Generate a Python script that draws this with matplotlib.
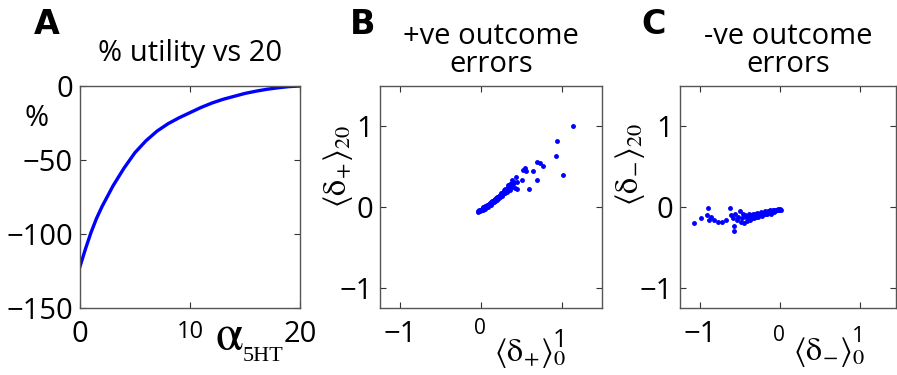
import matplotlib
matplotlib.use("Agg")
import matplotlib.pyplot as plt

plt.rcParams['font.family'] = ['Open Sans', 'DejaVu Sans']
plt.rcParams['mathtext.fontset'] = 'stix'

# panel A: % utility relative to alpha = 20
alpha = [0, 0.5, 1, 1.5, 2, 3, 4, 5, 6, 7, 8, 9, 10, 11, 12, 13, 14, 15, 16, 17, 18, 19, 20]
utility = [-122, -110, -99, -89.5, -81.5, -67.5, -55.5, -45, -37, -30.5, -25.5, -21.5,
           -18, -14.5, -11.5, -9, -7, -5, -3.5, -2.2, -1.2, -0.4, 0]

# panel B: positive outcome errors
bx = [-0.04, -0.03, -0.02, -0.01, 0.00, 0.01, 0.01, 0.02, 0.03, 0.03, 0.04, 0.05,
      0.05, 0.06, 0.07, 0.07, 0.08, 0.09, 0.09, 0.10, 0.10, 0.11, 0.12, 0.12,
      0.13, 0.14, 0.14, 0.15, 0.16, 0.16, 0.17, 0.18, 0.18, 0.19, 0.20, 0.20,
      0.21, 0.22, 0.22, 0.23, 0.24, 0.24, 0.25, 0.26, 0.26, 0.27, 0.28, 0.28,
      0.29, 0.30, 0.30, 0.31, 0.32, 0.32, 0.33, 0.34, 0.34, 0.35, 0.36, 0.36,
      0.37, 0.38, 0.39, 0.40, 0.41, 0.42, 0.43, 0.45, 0.45, 0.37, 0.39, 0.51,
      0.52, 0.54, 0.56, 0.59, 0.65, 0.70, 0.70, 0.73, 0.77, 0.93, 0.94, 1.02,
      1.14]
by = [-0.06, -0.05, -0.04, -0.05, -0.03, -0.04, -0.02, -0.02, -0.03, 0.00, -0.01, 0.01,
      -0.02, 0.00, 0.02, 0.00, 0.01, 0.03, 0.00, 0.04, 0.02, 0.05, 0.03, 0.06,
      0.04, 0.07, 0.05, 0.08, 0.06, 0.09, 0.07, 0.10, 0.08, 0.11, 0.09, 0.12,
      0.13, 0.11, 0.14, 0.12, 0.15, 0.13, 0.17, 0.14, 0.18, 0.16, 0.19, 0.17,
      0.21, 0.18, 0.22, 0.20, 0.23, 0.19, 0.25, 0.22, 0.27, 0.24, 0.29, 0.21,
      0.26, 0.29, 0.25, 0.28, 0.31, 0.24, 0.37, 0.23, 0.31, 0.29, 0.33, 0.33,
      0.46, 0.49, 0.45, 0.23, 0.45, 0.33, 0.56, 0.54, 0.51, 0.63, 0.82, 0.40,
      1.00]

# panel C: negative outcome errors
cx = [-1.07, -0.99, -0.90, -0.91, -0.89, -0.86, -0.83, -0.78, -0.73, -0.68, -0.63,
      -0.61, -0.59, -0.58, -0.58, -0.56, -0.54, -0.52, -0.50, -0.49, -0.47, -0.46,
      -0.45, -0.44, -0.42, -0.41, -0.40, -0.39, -0.38, -0.37, -0.36, -0.35, -0.34,
      -0.33, -0.32, -0.31, -0.30, -0.29, -0.28, -0.27, -0.26, -0.25, -0.24, -0.23,
      -0.22, -0.21, -0.20, -0.19, -0.18, -0.17, -0.16, -0.15, -0.14, -0.13, -0.12,
      -0.11, -0.10, -0.09, -0.08, -0.07, -0.06, -0.05, -0.04, -0.03, -0.02, -0.01,
      0.00, 0.01]
cy = [-0.20, -0.14, -0.01, -0.10, -0.16, -0.12, -0.16, -0.18, -0.19, -0.16, -0.01,
      -0.10, -0.14, -0.24, -0.30, -0.08, -0.16, -0.12, -0.05, -0.19, -0.14, -0.08,
      -0.20, -0.10, -0.12, -0.17, -0.14, -0.09, -0.12, -0.16, -0.10, -0.13, -0.08,
      -0.11, -0.14, -0.09, -0.12, -0.07, -0.10, -0.12, -0.08, -0.10, -0.06, -0.09,
      -0.11, -0.07, -0.09, -0.05, -0.08, -0.06, -0.09, -0.05, -0.07, -0.04, -0.06,
      -0.08, -0.05, -0.03, -0.06, -0.04, -0.05, -0.03, -0.04, -0.02, -0.04, -0.03,
      -0.02, -0.03]

W, H = 897, 375
FS = 21
BLUE = '#0000ff'


def box(x0, y0, w, h):
    return [x0 / W, 1 - (y0 + h) / H, w / W, h / H]


def style(ax):
    ax.tick_params(direction='in', top=True, right=True, length=4, width=0.8,
                   labelsize=FS, colors='#333333', labelcolor='black')
    ax.tick_params(axis='x', pad=9)
    ax.tick_params(axis='y', pad=5)
    for s in ax.spines.values():
        s.set_color('#555555')
        s.set_linewidth(1.0)


def small_xlabel(ax, value, text, dx, dy, size):
    # the reference squeezes some x tick labels next to the axis label
    ax.annotate(text, xy=(value, 0), xycoords=('data', 'axes fraction'),
                xytext=(dx, dy), textcoords='offset points',
                ha='center', va='top', fontsize=size)


fig = plt.figure(figsize=(W / 100, H / 100), dpi=100)

# A
axA = fig.add_axes(box(80, 86, 220, 222))
axA.plot(alpha, utility, color=BLUE, lw=2.4)
axA.set_xlim(0, 20)
axA.set_ylim(-150, 0)
axA.set_xticks([0, 10, 20])
axA.set_xticklabels(['0', '', '20'])
axA.set_yticks([0, -50, -100, -150])
style(axA)
small_xlabel(axA, 10, '10', 0, -9, 17)
axA.set_title('% utility vs 20', fontsize=FS, pad=18)
fig.text(37 / W, 1 - 118 / H, '%', fontsize=FS, ha='center', va='center')
fig.text(229 / W, 1 - 350 / H, r'$\mathrm{\alpha}$', fontsize=36,
         ha='center', va='baseline')
fig.text(243 / W, 1 - 361 / H, '5HT', fontsize=16, family='Liberation Serif',
         ha='left', va='baseline')

# B
axB = fig.add_axes(box(380, 86, 222, 222))
axB.plot(bx, by, '.', color=BLUE, ms=5)
axB.set_xlim(-1.25, 1.5)
axB.set_ylim(-1.25, 1.5)
axB.set_xticks([-1, 0, 1])
axB.set_xticklabels(['\u22121', '', ''])
axB.set_yticks([-1, 0, 1])
style(axB)
small_xlabel(axB, 0, '0', -1, -7.5, 15)
small_xlabel(axB, 1, '1', -1.5, -14.5, 18)
axB.set_title('+ve outcome\nerrors', fontsize=FS, pad=10, linespacing=0.95)
fig.text(338 / W, 1 - 166 / H, r'$\langle\mathrm{\delta}_{+}\rangle_{20}$', fontsize=23,
         rotation=90, ha='center', va='center')
fig.text(530 / W, 1 - 353 / H, r'$\langle\mathrm{\delta}_{+}\rangle_{0}$', fontsize=23,
         ha='center', va='center')

# C
axC = fig.add_axes(box(680, 86, 216, 222))
axC.plot(cx, cy, '.', color=BLUE, ms=5)
axC.set_xlim(-1.25, 1.45)
axC.set_ylim(-1.25, 1.5)
axC.set_xticks([-1, 0, 1])
axC.set_xticklabels(['\u22121', '', ''])
axC.set_yticks([-1, 0, 1])
style(axC)
small_xlabel(axC, 0, '0', -0.5, -12, 15)
small_xlabel(axC, 1, '1', -1, -13, 16)
axC.set_title('-ve outcome\nerrors', fontsize=FS, pad=10, linespacing=0.95)
fig.text(630 / W, 1 - 164 / H, r'$\langle\mathrm{\delta}_{-}\rangle_{20}$', fontsize=23,
         rotation=90, ha='center', va='center')
fig.text(829 / W, 1 - 352 / H, r'$\langle\mathrm{\delta}_{-}\rangle_{0}$', fontsize=23,
         ha='center', va='center')

# panel letters
for x, letter in [(47, 'A'), (363, 'B'), (654, 'C')]:
    fig.text(x / W, 1 - 25 / H, letter, fontsize=24, fontweight='heavy',
             family='DejaVu Sans', ha='center', va='center')

fig.savefig('out.png', dpi=100)
